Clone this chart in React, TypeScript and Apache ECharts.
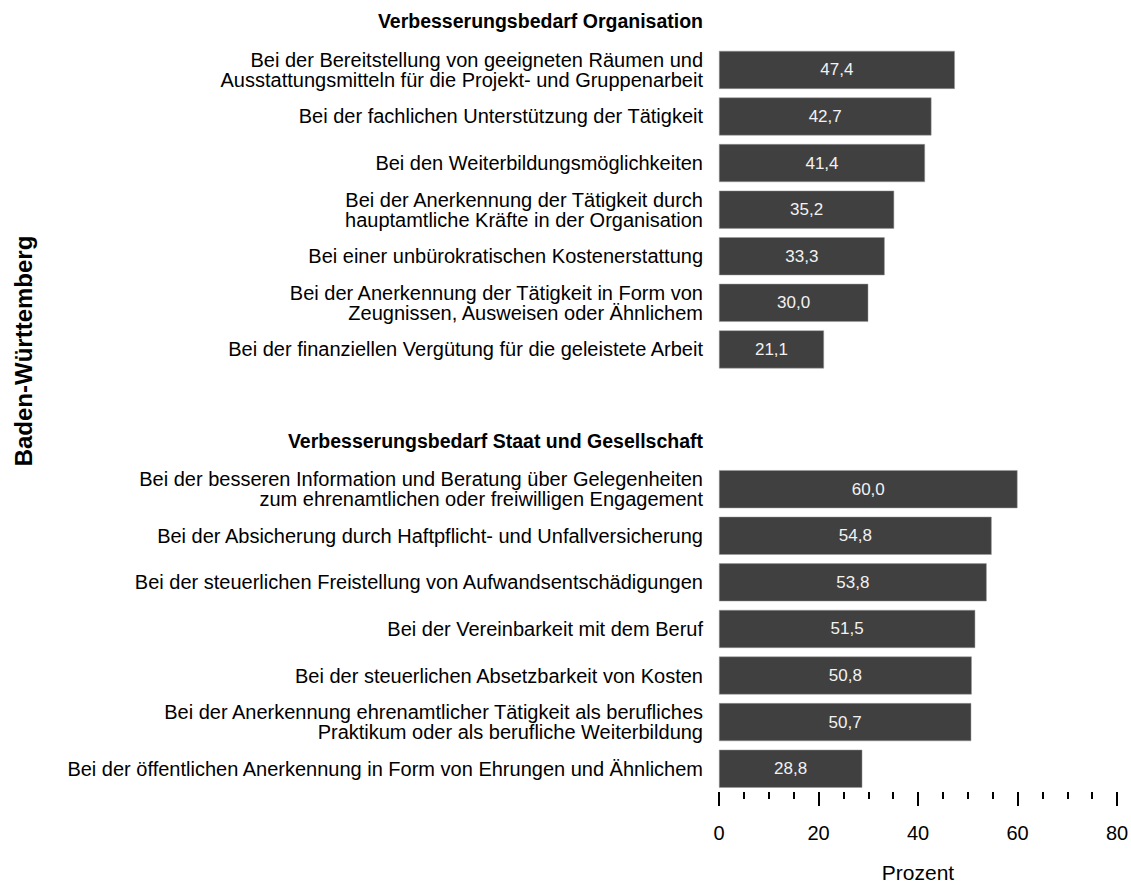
import React, { useEffect, useRef } from "react";
import * as echarts from "echarts";

const HEADER_1 = "Verbesserungsbedarf Organisation";
const HEADER_2 = "Verbesserungsbedarf Staat und Gesellschaft";

const orgCategories = [
  "Bei der Bereitstellung von geeigneten Räumen und\nAusstattungsmitteln für die Projekt- und Gruppenarbeit",
  "Bei der fachlichen Unterstützung der Tätigkeit",
  "Bei den Weiterbildungsmöglichkeiten",
  "Bei der Anerkennung der Tätigkeit durch\nhauptamtliche Kräfte in der Organisation",
  "Bei einer unbürokratischen Kostenerstattung",
  "Bei der Anerkennung der Tätigkeit in Form von\nZeugnissen, Ausweisen oder Ähnlichem",
  "Bei der finanziellen Vergütung für die geleistete Arbeit",
];
const orgValues = [47.4, 42.7, 41.4, 35.2, 33.3, 30.0, 21.1];

const stateCategories = [
  "Bei der besseren Information und Beratung über Gelegenheiten\nzum ehrenamtlichen oder freiwilligen Engagement",
  "Bei der Absicherung durch Haftpflicht- und Unfallversicherung",
  "Bei der steuerlichen Freistellung von Aufwandsentschädigungen",
  "Bei der Vereinbarkeit mit dem Beruf",
  "Bei der steuerlichen Absetzbarkeit von Kosten",
  "Bei der Anerkennung ehrenamtlicher Tätigkeit als berufliches\nPraktikum oder als berufliche Weiterbildung",
  "Bei der öffentlichen Anerkennung in Form von Ehrungen und Ähnlichem",
];
const stateValues = [60.0, 54.8, 53.8, 51.5, 50.8, 50.7, 28.8];

const xTickValues = [0, 20, 40, 60, 80];
const xAxisTitle = "Prozent";
const yAxisTitle = "Baden-Württemberg";

const BLANK = " ";

export default function App() {
  const ref = useRef<HTMLDivElement>(null);

  useEffect(() => {
    if (!ref.current) return;
    const chart = echarts.init(ref.current, null, { renderer: "svg" });

    const categories = [HEADER_1, ...orgCategories, BLANK, HEADER_2, ...stateCategories];
    const values: (number | null)[] = [null, ...orgValues, null, null, ...stateValues];
    const headers = new Set([HEADER_1, HEADER_2]);
    const font = "'Liberation Sans', Arial, Helvetica, sans-serif";

    chart.setOption({
      animation: false,
      backgroundColor: "#ffffff",
      textStyle: { fontFamily: font },
      grid: { left: 719, right: 14, top: 0, height: 792, outerBoundsMode: "none", containLabel: false },
      graphic: [
        {
          type: "text",
          x: 23,
          y: 351,
          rotation: Math.PI / 2,
          style: {
            text: yAxisTitle,
            fontSize: 24,
            fontWeight: "bold",
            fill: "#000",
            fontFamily: font,
            align: "center",
            verticalAlign: "middle",
          },
        },
      ],
      xAxis: {
        type: "value",
        min: xTickValues[0],
        max: xTickValues[xTickValues.length - 1],
        interval: 20,
        position: "bottom",
        axisLine: { show: false },
        axisTick: { show: true, length: 14, lineStyle: { color: "#000", width: 2 } },
        minorTick: { show: true, splitNumber: 4, length: 7, lineStyle: { color: "#000", width: 2 } },
        splitLine: { show: false },
        minorSplitLine: { show: false },
        axisLabel: { margin: 31, fontSize: 20, color: "#000", fontFamily: font },
        name: xAxisTitle,
        nameLocation: "middle",
        nameGap: 70,
        nameTextStyle: { fontSize: 21, color: "#000", fontFamily: font },
      },
      yAxis: {
        type: "category",
        inverse: true,
        data: categories,
        axisLine: { show: false },
        axisTick: { show: false },
        splitLine: { show: false },
        axisLabel: {
          margin: 16,
          fontSize: 20,
          lineHeight: 20,
          color: "#000",
          fontFamily: font,
          formatter: (v: string) => (headers.has(v) ? `{h|${v}}` : v),
          rich: {
            h: {
              fontSize: 19.5,
              fontWeight: "bold",
              color: "#000",
              fontFamily: font,
              padding: [0, 0, 4, 0],
            },
          },
        },
      },
      series: [
        {
          type: "bar",
          data: values,
          barWidth: 38,
          itemStyle: { color: "#404040", borderColor: "#9a9a9a", borderWidth: 0.5 },
          label: {
            show: true,
            position: "inside",
            color: "#f2f2f2",
            fontSize: 17,
            fontFamily: font,
            formatter: (p: any) => (p.value == null ? "" : Number(p.value).toFixed(1).replace(".", ",")),
          },
        },
      ],
    });

    return () => chart.dispose();
  }, []);

  return (
    <div
      ref={ref}
      style={{ position: "fixed", left: 0, top: 0, width: 1131, height: 883 }}
    />
  );
}
